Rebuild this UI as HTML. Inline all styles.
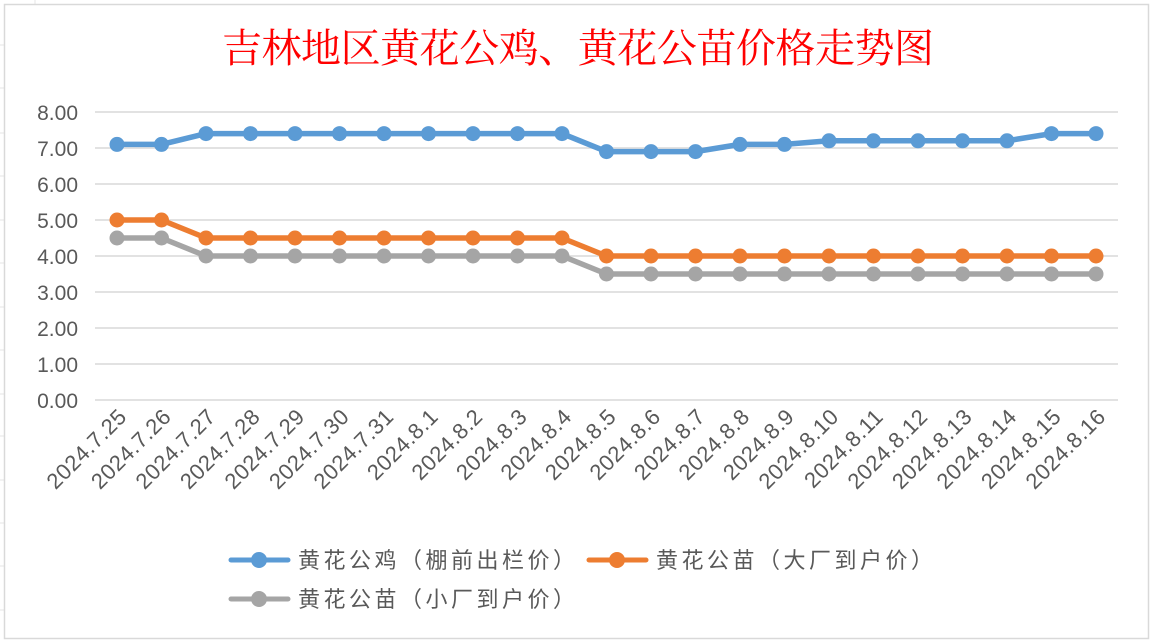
<!DOCTYPE html>
<html><head><meta charset="utf-8"><style>
body{margin:0;background:#fff;}
svg{display:block;font-family:"Liberation Sans","Noto Sans CJK SC",sans-serif;}
</style></head><body>
<svg width="1154" height="643" viewBox="0 0 1154 643">
<g stroke="#e6e6e6" stroke-width="1">
<line x1="35" y1="0" x2="35" y2="4"/><line x1="0" y1="45" x2="4" y2="45"/><line x1="0" y1="88" x2="4" y2="88"/><line x1="0" y1="133" x2="4" y2="133"/><line x1="0" y1="176" x2="4" y2="176"/><line x1="0" y1="220" x2="4" y2="220"/><line x1="0" y1="263" x2="4" y2="263"/><line x1="0" y1="307" x2="4" y2="307"/><line x1="0" y1="350" x2="4" y2="350"/><line x1="0" y1="394" x2="4" y2="394"/><line x1="0" y1="436" x2="4" y2="436"/><line x1="0" y1="480" x2="4" y2="480"/><line x1="0" y1="523" x2="4" y2="523"/><line x1="0" y1="566" x2="4" y2="566"/><line x1="0" y1="610" x2="4" y2="610"/>
</g>
<rect x="4.5" y="4.5" width="1144" height="634" fill="#fff" stroke="#d9d9d9" stroke-width="1.5"/>
<text x="578" y="62" text-anchor="middle" font-family="'Liberation Serif','Noto Serif CJK SC',serif" font-size="40" fill="#ff0000" textLength="712">吉林地区黄花公鸡、黄花公苗价格走势图</text>
<g stroke="#d9d9d9" stroke-width="1.5">
<line x1="95" x2="1118" y1="112" y2="112"/><line x1="95" x2="1118" y1="148" y2="148"/><line x1="95" x2="1118" y1="184" y2="184"/><line x1="95" x2="1118" y1="220" y2="220"/><line x1="95" x2="1118" y1="256" y2="256"/><line x1="95" x2="1118" y1="292" y2="292"/><line x1="95" x2="1118" y1="328" y2="328"/><line x1="95" x2="1118" y1="364" y2="364"/><line x1="95" x2="1118" y1="400" y2="400"/>
</g>
<g font-size="21" fill="#595959" text-anchor="end">
<text x="78" y="120">8.00</text><text x="78" y="156">7.00</text><text x="78" y="192">6.00</text><text x="78" y="228">5.00</text><text x="78" y="264">4.00</text><text x="78" y="300">3.00</text><text x="78" y="336">2.00</text><text x="78" y="372">1.00</text><text x="78" y="408">0.00</text>
</g>
<g id="xl" font-size="22" fill="#595959" text-anchor="end"></g>
<g id="series"></g>
<g font-size="22" fill="#595959" letter-spacing="3.5">
<line x1="231" y1="560" x2="288" y2="560" stroke="#5b9bd5" stroke-width="5" stroke-linecap="round"/><circle cx="259" cy="560" r="8" fill="#5b9bd5"/>
<text x="298" y="568">黄花公鸡（棚前出栏价）</text>
<line x1="589" y1="560" x2="646" y2="560" stroke="#ed7d31" stroke-width="5" stroke-linecap="round"/><circle cx="617" cy="560" r="8" fill="#ed7d31"/>
<text x="656" y="568">黄花公苗（大厂到户价）</text>
<line x1="231" y1="599" x2="288" y2="599" stroke="#a5a5a5" stroke-width="5" stroke-linecap="round"/><circle cx="259" cy="599" r="8" fill="#a5a5a5"/>
<text x="298" y="607">黄花公苗（小厂到户价）</text>
</g>
</svg>
<script>
const labels=["2024.7.25","2024.7.26","2024.7.27","2024.7.28","2024.7.29","2024.7.30","2024.7.31","2024.8.1","2024.8.2","2024.8.3","2024.8.4","2024.8.5","2024.8.6","2024.8.7","2024.8.8","2024.8.9","2024.8.10","2024.8.11","2024.8.12","2024.8.13","2024.8.14","2024.8.15","2024.8.16"];
const s1=[7.1,7.1,7.4,7.4,7.4,7.4,7.4,7.4,7.4,7.4,7.4,6.9,6.9,6.9,7.1,7.1,7.2,7.2,7.2,7.2,7.2,7.4,7.4];
const s2=[5,5,4.5,4.5,4.5,4.5,4.5,4.5,4.5,4.5,4.5,4,4,4,4,4,4,4,4,4,4,4,4];
const s3=[4.5,4.5,4,4,4,4,4,4,4,4,4,3.5,3.5,3.5,3.5,3.5,3.5,3.5,3.5,3.5,3.5,3.5,3.5];
const X=i=>117+i*44.5, Y=v=>400-v*36;
const NS="http://www.w3.org/2000/svg";
const xl=document.getElementById('xl');
labels.forEach((l,i)=>{const t=document.createElementNS(NS,'text');const x=X(i)+11,y=418;t.setAttribute('x',x);t.setAttribute('y',y);t.setAttribute('transform',`rotate(-45 ${x} ${y})`);t.setAttribute('letter-spacing','0.5');t.textContent=l;xl.appendChild(t);});
const g=document.getElementById('series');
[[s3,'#a5a5a5'],[s2,'#ed7d31'],[s1,'#5b9bd5']].forEach(([s,c])=>{
const p=document.createElementNS(NS,'polyline');p.setAttribute('points',s.map((v,i)=>X(i)+','+Y(v)).join(' '));p.setAttribute('fill','none');p.setAttribute('stroke',c);p.setAttribute('stroke-width','5.5');p.setAttribute('stroke-linejoin','round');g.appendChild(p);
s.forEach((v,i)=>{const k=document.createElementNS(NS,'circle');k.setAttribute('cx',X(i));k.setAttribute('cy',Y(v));k.setAttribute('r','7.5');k.setAttribute('fill',c);g.appendChild(k);});
});
</script>
</body></html>
